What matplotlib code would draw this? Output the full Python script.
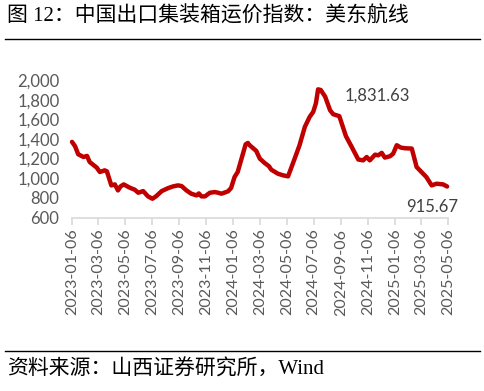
import matplotlib
matplotlib.use("Agg")
import matplotlib.pyplot as plt
import pandas as pd
from matplotlib.ticker import FuncFormatter

RED = "#c00000"
GREY = "#595959"
AXIS = "#d9d9d9"

TITLE = "图 12：中国出口集装箱运价指数：美东航线"
SOURCE = "资料来源：山西证券研究所，Wind"

dates = [
    "2023-01-06", "2023-01-13", "2023-01-20", "2023-02-01", "2023-02-09", "2023-02-15",
    "2023-03-03", "2023-03-10", "2023-03-21", "2023-03-26", "2023-04-05", "2023-04-13",
    "2023-04-20", "2023-04-26", "2023-05-03", "2023-05-17", "2023-05-28", "2023-06-05",
    "2023-06-16", "2023-06-27", "2023-07-07", "2023-07-15", "2023-07-28", "2023-08-12",
    "2023-08-23", "2023-09-03", "2023-09-11", "2023-09-22", "2023-10-03", "2023-10-15",
    "2023-10-20", "2023-10-26", "2023-11-03", "2023-11-14", "2023-11-25", "2023-12-03",
    "2023-12-10", "2023-12-25", "2024-01-01", "2024-01-09", "2024-01-16", "2024-01-28",
    "2024-02-03", "2024-02-08", "2024-02-12", "2024-02-27", "2024-03-06", "2024-03-17",
    "2024-03-27", "2024-04-01", "2024-04-16", "2024-04-28", "2024-05-09", "2024-05-24",
    "2024-06-04", "2024-06-16", "2024-06-27", "2024-07-05", "2024-07-11", "2024-07-16",
    "2024-07-22", "2024-08-01", "2024-08-12", "2024-08-19", "2024-09-02", "2024-09-17",
    "2024-09-30", "2024-10-15", "2024-10-26", "2024-11-03", "2024-11-10", "2024-11-22",
    "2024-11-29", "2024-12-07", "2024-12-14", "2024-12-26", "2025-01-02", "2025-01-10",
    "2025-01-19", "2025-01-29", "2025-02-13", "2025-02-24", "2025-03-07", "2025-03-18",
    "2025-03-30", "2025-04-10", "2025-04-25", "2025-05-04",
]
values = [
    1370, 1325, 1244, 1216, 1227, 1165, 1108, 1063, 1080, 1070,
    927, 937, 876, 917, 937, 903, 883, 852, 869, 815,
    791, 815, 869, 900, 917, 927, 920, 876, 842, 825,
    845, 815, 815, 852, 859, 852, 842, 866, 900, 1013,
    1063, 1251, 1345, 1359, 1336, 1278, 1200, 1155, 1121, 1087,
    1046, 1029, 1019, 1200, 1336, 1523, 1625, 1676, 1762, 1905,
    1898, 1830, 1693, 1652, 1632, 1428, 1319, 1190, 1182, 1216,
    1182, 1240, 1233, 1258, 1210, 1224, 1251, 1336, 1312, 1305,
    1302, 1114, 1063, 1012, 927, 944, 937, 915.67,
]
tick_dates = [
    "2023-01-06", "2023-03-06", "2023-05-06", "2023-07-06", "2023-09-06",
    "2023-11-06", "2024-01-06", "2024-03-06", "2024-05-06", "2024-07-06",
    "2024-09-06", "2024-11-06", "2025-01-06", "2025-03-06", "2025-05-06",
]
y_ticks = [600, 800, 1000, 1200, 1400, 1600, 1800, 2000]

# data labels shown on the chart
peak_label = "1,831.63"
last_label = "915.67"

x = pd.to_datetime(dates)
ticks = pd.to_datetime(tick_dates)

fig = plt.figure(figsize=(4.85, 3.91), dpi=100)
ax = fig.add_axes([72 / 485, 1 - 217.5 / 391, 376 / 485, 137.5 / 391])

ax.plot(x, values, color=RED, lw=3.2, solid_joinstyle="round",
        solid_capstyle="round", clip_on=False)

ax.set_xlim(ticks[0], ticks[-1])
ax.set_ylim(600, 2000)
ax.set_yticks(y_ticks)
ax.yaxis.set_major_formatter(FuncFormatter(lambda v, _: f"{int(v):,}"))
ax.set_xticks(ticks)
ax.set_xticklabels(tick_dates, rotation=90)

for s in ("top", "right", "left"):
    ax.spines[s].set_visible(False)
ax.spines["bottom"].set_color(AXIS)
ax.spines["bottom"].set_linewidth(1.2)
ax.tick_params(axis="x", direction="out", length=5, color=AXIS, width=1.2,
               labelsize=11.5, labelcolor=GREY, pad=3)
ax.tick_params(axis="y", length=0, labelsize=12, labelcolor=GREY, pad=9)
for lab in ax.get_xticklabels() + ax.get_yticklabels():
    lab.set_fontfamily("Lato")

ax.text(pd.Timestamp("2024-09-15"), 1836, peak_label, ha="left", va="center",
        fontsize=12, color="#404040", family="Lato")
ax.text(pd.Timestamp("2025-03-31"), 712, last_label, ha="center", va="center",
        fontsize=12, color="#404040", family="Lato", clip_on=False)

fam = ["Liberation Serif", "Noto Sans CJK SC"]
fig.text(7 / 485, 1 - 17 / 391, TITLE, ha="left", va="center",
         fontsize=15, family=fam, weight="light", color="black")
fig.text(7 / 485, 1 - 370 / 391, SOURCE, ha="left", va="center",
         fontsize=15, family=fam, weight="light", color="black")
fig.add_artist(plt.Line2D([5 / 485, 480 / 485], [1 - 38.5 / 391] * 2,
                          color="black", lw=1.0))
fig.add_artist(plt.Line2D([5 / 485, 480 / 485], [1 - 351 / 391] * 2,
                          color="black", lw=1.0))

fig.savefig("out.png", dpi=100)
